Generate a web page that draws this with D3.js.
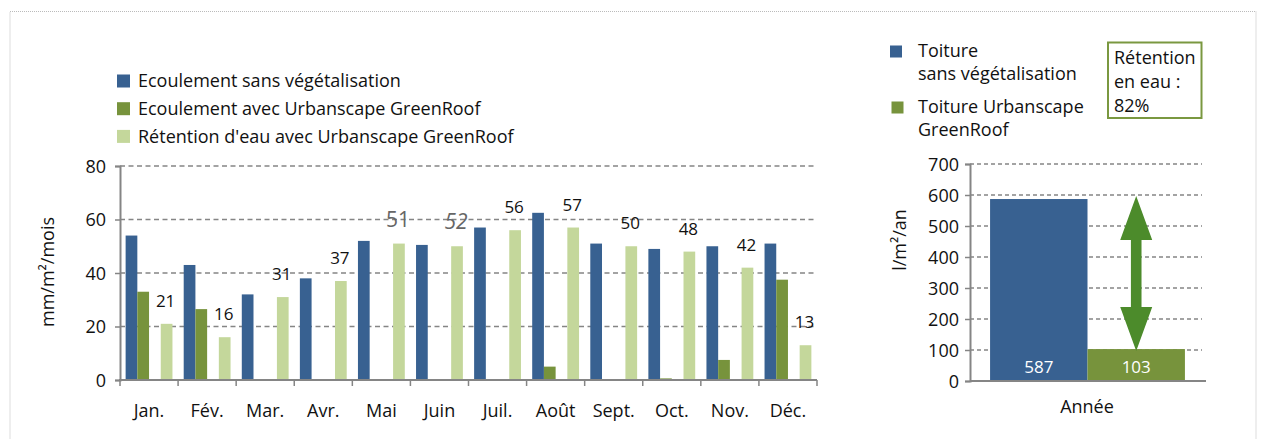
<!DOCTYPE html>
<html><head><meta charset="utf-8">
<script src="https://cdn.jsdelivr.net/npm/d3@7"></script>
<style>
body{margin:0;background:#fff;}
svg text{font-family:"Open Sans",sans-serif;}
</style></head>
<body><svg id="c" width="1262" height="439"></svg>
<script>
// ---- data ----
const months = ["Jan.","Fév.","Mar.","Avr.","Mai","Juin","Juil.","Août","Sept.","Oct.","Nov.","Déc."];
const runoffWithout = [54,43,32,38,52,50.5,57,62.5,51,49,50,51];
const runoffWith = [33,26.5,0,0,0,0,0,5,0,0.6,7.5,37.5];
const retention = [21,16,31,37,51,50,56,57,50,48,42,13];
const retentionLabels = ["21","16","31","37","51","52","56","57","50","48","42","13"];
const monthTicks = [0,20,40,60,80];
const seriesNames = ["Ecoulement sans végétalisation","Ecoulement avec Urbanscape GreenRoof","Rétention d'eau avec Urbanscape GreenRoof"];
const yearCats = ["Toiture\nsans végétalisation","Toiture Urbanscape\nGreenRoof"];
const yearValues = [587,103];
const yearTicks = [0,100,200,300,400,500,600,700];
const retentionBox = ["Rétention","en eau :","82%"];

(function(){
const BLUE="#386191", GREEN="#77933c", LIGHT="#c4d79b", ARROW="#4c8b2b", GRID="#858585";
const FS = 18;
const svg = d3.select("#c");

svg.append("rect").attr("x",10).attr("y",11.5).attr("width",1246).attr("height",440)
  .attr("fill","none").attr("stroke","#bbb").attr("stroke-width",1).attr("stroke-dasharray","1,1");

// ---- monthly chart ----
const x = d3.scaleBand().domain(months).range([120,817]).padding(0);
const sub = d3.scaleBand().domain(["a","b","c","d"]).range([0,x.bandwidth()]).paddingInner(0).paddingOuter(0.48);
const y = d3.scaleLinear().domain([0,80]).range([380,166]);

const g = svg.append("g");
g.selectAll("line.grid").data(monthTicks.slice(1)).join("line")
  .attr("x1",120).attr("x2",817).attr("y1",d=>y(d)).attr("y2",d=>y(d))
  .attr("stroke",GRID).attr("stroke-width",1.5).attr("stroke-dasharray","5,3.5");

const drawBars = (vals, key, col) => g.selectAll("rect."+key).data(vals).join("rect")
  .attr("class",key).attr("x",(d,i)=>x(months[i])+sub(key)).attr("width",sub.bandwidth())
  .attr("y",d=>y(d)).attr("height",d=>y(0)-y(d)).attr("fill",col);
drawBars(runoffWithout,"a",BLUE);
drawBars(runoffWith,"b",GREEN);
drawBars(retention,"d",LIGHT);

const yAxis = g.append("g").attr("transform","translate(120,0)")
  .call(d3.axisLeft(y).tickValues(monthTicks).tickSize(5).tickPadding(9));
yAxis.select(".domain").attr("stroke",GRID).attr("stroke-width",2);
yAxis.selectAll(".tick line").attr("stroke",GRID).attr("stroke-width",1.5);
yAxis.selectAll("text").attr("font-size",FS).attr("fill","#111").attr("dy","0.35em");

const xAxis = g.append("g").attr("transform","translate(0,380)")
  .call(d3.axisBottom(x).tickSize(0).tickPadding(24));
xAxis.select(".domain").attr("stroke",GRID).attr("stroke-width",2).attr("d","M119,0H817");
xAxis.selectAll("text").attr("font-size",FS).attr("fill","#111").attr("dy","0.35em").attr("y",31);
g.selectAll("line.xt").data(months.concat(["end"])).join("line")
  .attr("x1",(d,i)=>i<12?x(d):x.range()[1]).attr("x2",(d,i)=>i<12?x(d):x.range()[1])
  .attr("y1",380).attr("y2",386).attr("stroke",GRID).attr("stroke-width",1.5);

g.selectAll("text.lbl").data(retention).join("text")
  .attr("x",(d,i)=>x(months[i])+sub("d")+sub.bandwidth()/2 - 1)
  .attr("y",(d,i)=>y(d)-17)
  .attr("text-anchor","middle")
  .attr("font-size",(d,i)=>(i===4||i===5)?21:17)
  .attr("fill",(d,i)=>(i===4||i===5)?"#666":"#111")
  .attr("font-style",(d,i)=>i===5?"italic":"normal")
  .text((d,i)=>retentionLabels[i]);

svg.append("text").attr("transform","translate(54,272) rotate(-90)").attr("text-anchor","middle")
  .attr("font-size",FS).attr("fill","#111")
  .text("mm/m²/mois");

const leg = svg.append("g");
[BLUE,GREEN,LIGHT].forEach((c,i)=>{
  const cy = 81 + i*27.7;
  leg.append("rect").attr("x",117).attr("y",cy-6.5).attr("width",13).attr("height",13).attr("fill",c);
  leg.append("text").attr("x",138).attr("y",cy+6.2).attr("font-size",FS).attr("fill","#111").text(seriesNames[i]);
});

// ---- yearly chart ----
const x2 = d3.scaleBand().domain(["Année"]).range([970,1205]).paddingOuter(0.103).paddingInner(0);
const sub2 = d3.scaleBand().domain([0,1]).range([0,x2.bandwidth()]);
const y2 = d3.scaleLinear().domain([0,700]).range([381,164]);
const g2 = svg.append("g");
g2.selectAll("line.grid").data(yearTicks.slice(1)).join("line")
  .attr("x1",970).attr("x2",1202).attr("y1",d=>y2(d)).attr("y2",d=>y2(d))
  .attr("stroke",GRID).attr("stroke-width",1.5).attr("stroke-dasharray","4,3");
g2.selectAll("rect.yb").data(yearValues).join("rect")
  .attr("x",(d,i)=>x2("Année")+sub2(i)).attr("width",sub2.bandwidth())
  .attr("y",d=>y2(d)).attr("height",d=>y2(0)-y2(d)).attr("fill",(d,i)=>i===0?BLUE:GREEN);
g2.selectAll("text.yv").data(yearValues).join("text")
  .attr("x",(d,i)=>x2("Année")+sub2(i)+sub2.bandwidth()/2).attr("y",373)
  .attr("text-anchor","middle").attr("font-size",17).attr("fill","#fff").text(d=>d);
const y2Axis = g2.append("g").attr("transform","translate(970,0)")
  .call(d3.axisLeft(y2).tickValues(yearTicks).tickSize(5).tickPadding(6));
y2Axis.select(".domain").attr("stroke",GRID).attr("stroke-width",2);
y2Axis.selectAll(".tick line").attr("stroke",GRID).attr("stroke-width",1.5);
y2Axis.selectAll("text").attr("font-size",FS).attr("fill","#111").attr("dy","0.35em");
g2.append("line").attr("x1",971).attr("x2",1206).attr("y1",381).attr("y2",381).attr("stroke",GRID).attr("stroke-width",2);
g2.append("text").attr("x",1087).attr("y",413).attr("text-anchor","middle").attr("font-size",FS).attr("fill","#111").text("Année");
svg.append("text").attr("transform","translate(906,240) rotate(-90)").attr("text-anchor","middle")
  .attr("font-size",FS).attr("fill","#111").text("l/m²/an");

const ax = x2("Année")+sub2(1)+sub2.bandwidth()/2;
const yTop = y2(yearValues[0])-3, yBot = y2(yearValues[1])+2;
const hw = 16, sw = 5.3, hh = 44;
const p = [[ax,yTop],[ax+hw,yTop+hh],[ax+sw,yTop+hh],[ax+sw,yBot-hh],[ax+hw,yBot-hh],[ax,yBot],
  [ax-hw,yBot-hh],[ax-sw,yBot-hh],[ax-sw,yTop+hh],[ax-hw,yTop+hh]];
svg.append("path").attr("d",d3.line()(p)+"Z").attr("fill",ARROW);

const rl = svg.append("g");
[BLUE,GREEN].forEach((c,i)=>{
  const sy = i===0?45.5:101.5;
  rl.append("rect").attr("x",890+i*1.5).attr("y",sy).attr("width",12).attr("height",12).attr("fill",c);
  yearCats[i].split("\n").forEach((t,j)=>{
    rl.append("text").attr("x",918).attr("y",(i===0?57:113)+j*22.5).attr("font-size",FS).attr("fill","#111").text(t);
  });
});
rl.append("rect").attr("x",1108).attr("y",42.5).attr("width",93.5).attr("height",75.5)
  .attr("fill","#fff").attr("stroke","#7a9840").attr("stroke-width",2);
retentionBox.forEach((t,j)=>{
  rl.append("text").attr("x",1114).attr("y",63.5+j*24.2).attr("font-size",FS).attr("fill","#111").text(t);
});
})();
</script></body></html>
